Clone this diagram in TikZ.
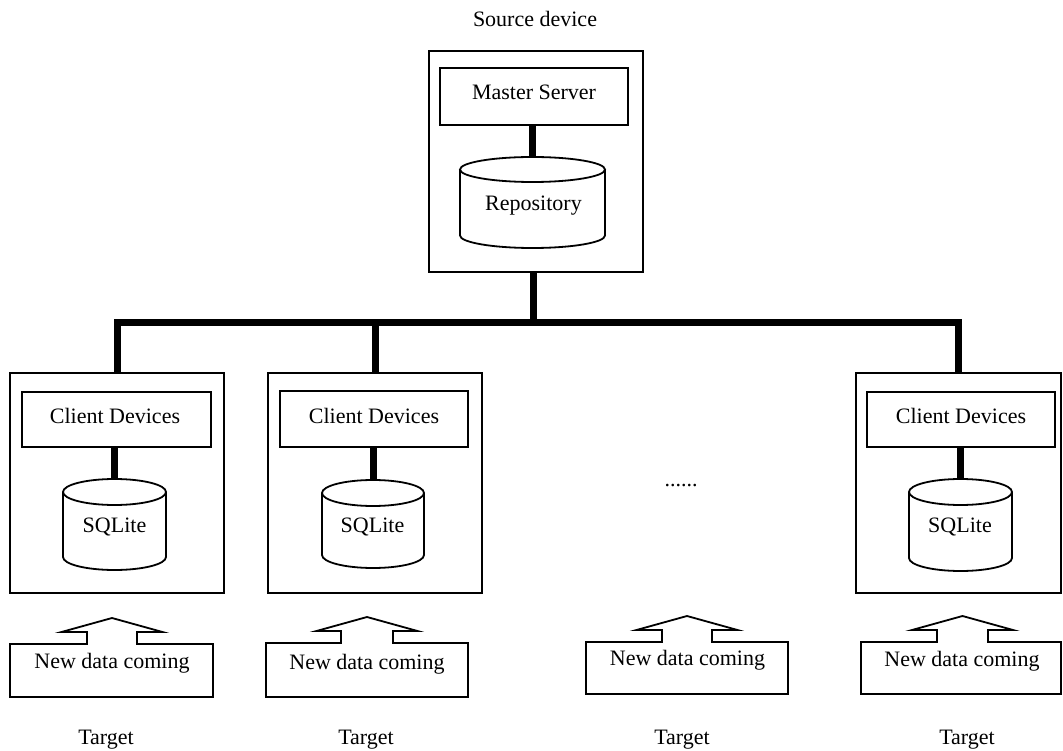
\documentclass[tikz,border=0pt]{standalone}
\usepackage{fontspec}
\setmainfont{Liberation Serif}
\begin{document}
\begin{tikzpicture}[x=1pt,y=-1pt,
  thinline/.style={line width=1.8pt,line join=miter},
  frame/.style={thinline,draw,rectangle,inner sep=0pt},
  bus/.style={line width=7pt,line join=miter},
  txt/.style={font=\fontsize{22}{26}\selectfont,inner sep=0pt,anchor=base}]
\useasboundingbox (0,0) rectangle (1063,751);

% database cylinder: name, centre x, top y, bottom y, x radius, y radius
\newcommand\dbcyl[6]{%
  \draw[thinline] (#2-#5,#3+#6) -- (#2-#5,#4-#6)
    arc[start angle=180,end angle=360,x radius=#5pt,y radius=#6pt]
    -- (#2+#5,#3+#6);
  \draw[thinline] (#2,#3+#6) ellipse[x radius=#5pt,y radius=#6pt];
  \coordinate (#1) at (#2,#3);}

% up-arrow callout: left, right, top, bottom, arrow centre x, stem half width
\newcommand\callout[6]{%
  \draw[thinline] (#1,#3) -- (#5-#6,#3) -- (#5-#6,#3-12) -- (#5-50.5,#3-12)
    -- (#5,#3-26) -- (#5+50.5,#3-12) -- (#5+#6,#3-12) -- (#5+#6,#3)
    -- (#2,#3) -- (#2,#4) -- (#1,#4) -- cycle;}

% ---- source device ----
\node[txt] (srclbl) at (535,27) {Source device};
\node[frame,minimum width=214,minimum height=221] (src) at (536,161.5) {};
\node[frame,minimum width=188,minimum height=57] (ms) at (534,96.5) {};
\node[txt] (mslbl) at (534,100) {Master Server};
\dbcyl{repo}{532.5}{157}{248}{72.5}{12.5}
\node[txt] (repolbl) at (533.5,211) {Repository};
\draw[bus] (repo) -- (repo |- ms.south);

% ---- client devices ----
\node[frame,minimum width=214,minimum height=220] (c1) at (117,483) {};
\node[frame,minimum width=214,minimum height=220] (c2) at (375,483) {};
\node[frame,minimum width=205,minimum height=220] (c4) at (958.5,483) {};

\node[frame,minimum width=189,minimum height=55] (cd1) at (116.5,419.5) {};
\node[frame,minimum width=188,minimum height=56] (cd2) at (374,419) {};
\node[frame,minimum width=188,minimum height=55] (cd4) at (961,419.5) {};
\node[txt] (cd1lbl) at (115,423) {Client Devices};
\node[txt] (cd2lbl) at (374,423) {Client Devices};
\node[txt] (cd4lbl) at (961,423) {Client Devices};

\dbcyl{db1}{114.5}{479}{570}{51.5}{13}
\dbcyl{db2}{373}{480}{568}{51}{13}
\dbcyl{db4}{960.5}{479}{571}{51.5}{13}
\node[txt] (db1lbl) at (114.5,532) {SQLite};
\node[txt] (db2lbl) at (372.5,532) {SQLite};
\node[txt] (db4lbl) at (960,532) {SQLite};

\draw[bus] (db1) -- (db1 |- cd1.south);
\draw[bus] (db2) -- (db2 |- cd2.south);
\draw[bus] (db4) -- (db4 |- cd4.south);

\node[txt] (dots) at (681,486) {......};

% ---- network bus ----
\coordinate (hub) at (533,322.5);
\draw[bus] (src.south -| hub) -- (hub);
\draw[bus] (c1.north) |- (hub) -| (c4.north);
\draw[bus] (c2.north) -- (c2.north |- hub);

% ---- incoming data ----
\callout{10}{213}{644}{697}{112}{25}
\callout{266}{468}{643}{697}{367}{26}
\callout{586}{788}{642}{694}{687}{25}
\callout{861}{1061}{642}{694}{962.5}{25.5}
\node[txt] (in1) at (112,668) {New data coming};
\node[txt] (in2) at (367,669) {New data coming};
\node[txt] (in3) at (687.5,665) {New data coming};
\node[txt] (in4) at (962,666) {New data coming};

\node[txt] (t1) at (106,744) {Target};
\node[txt] (t2) at (366,744) {Target};
\node[txt] (t3) at (682,744) {Target};
\node[txt] (t4) at (967,744) {Target};
\end{tikzpicture}
\end{document}
